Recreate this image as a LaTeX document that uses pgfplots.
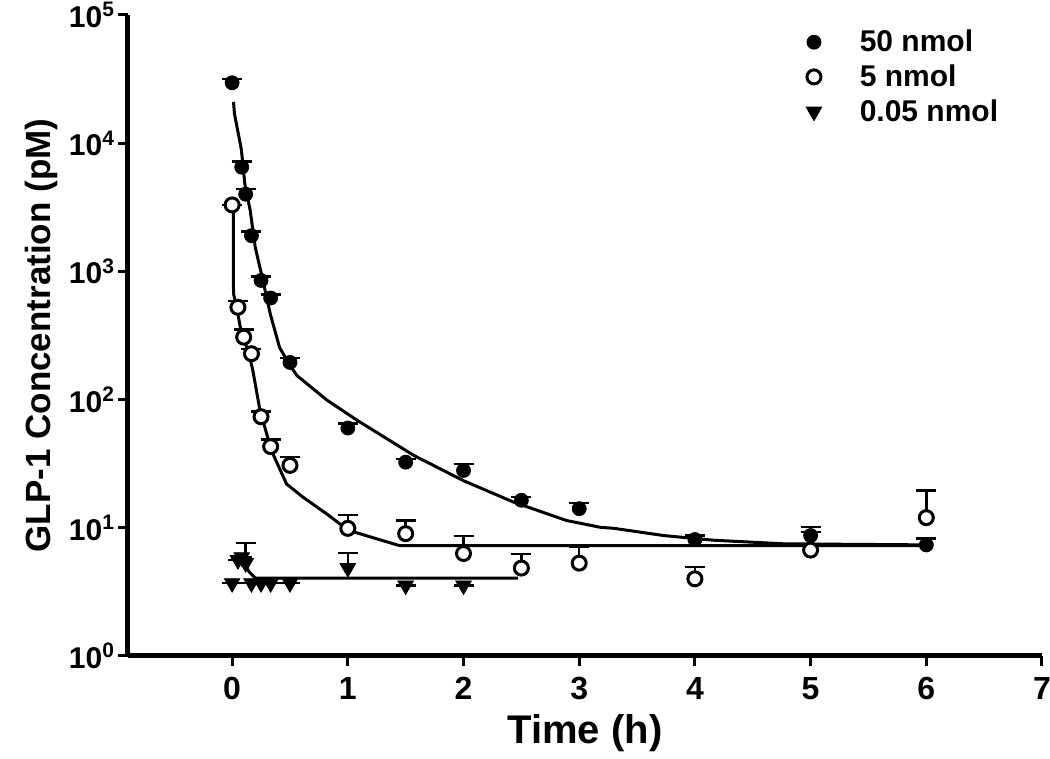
\documentclass[border=0pt]{standalone}
\usepackage{fontspec}
\setmainfont{Liberation Sans}
\usepackage{pgfplots}
\usepackage{pgfplotstable}
\pgfplotsset{compat=1.18}
\pgfplotstableread{
t v e
0 29600 2000
0.083 6500 700
0.117 4000 400
0.167 1900 150
0.25 850 60
0.333 620 40
0.5 195 15
1 60 5
1.5 32.5 2
2 28 3.3
2.5 16.4 1
3 14.1 1.5
4 8.1 0.6
5 8.7 1.4
6 7.35 0.9
}\dataA
\pgfplotstableread{
t v e
0 3300 0
0.05 525 60
0.1 307 45
0.167 228 20
0.25 73.5 7
0.333 43 6
0.5 30.7 5
1 9.9 2.7
1.5 9.0 2.4
2 6.3 2.3
2.5 4.85 1.4
3 5.3 1.8
4 4.0 0.95
5 6.7 2.6
6 12.0 7.5
}\dataB
\pgfplotstableread{
t v e
0 3.7 0
0.05 5.6 0
0.083 5.9 0
0.117 5.3 2.3
0.167 3.7 0
0.25 3.7 0
0.333 3.7 0
0.5 3.7 0
1 4.85 1.5
1.5 3.55 0
2 3.55 0
}\dataC
\begin{document}
\begin{tikzpicture}
\path[use as bounding box] (-64pt,-51.5pt) rectangle (461pt,328pt);
\begin{axis}[
  at={(0,0)}, anchor=south west,
  scale only axis, width=457pt, height=320.5pt,
  xmin=-0.9, xmax=7, ymode=log, ymin=1, ymax=100000,
  axis lines=left, axis line style={line width=2.5pt,-},
  xtick={0,1,2,3,4,5,6,7},
  ytick={1,10,100,1000,10000,100000},
  yticklabels={10\textsuperscript{0},10\textsuperscript{1},10\textsuperscript{2},10\textsuperscript{3},10\textsuperscript{4},10\textsuperscript{5}},
  /pgf/number format/assume math mode=true,
  yminorticks=false, xminorticks=false,
  tick align=outside, major tick length=5pt,
  tick style={line width=1.5pt, black},
  xticklabel style={font=\fontsize{16}{19}\selectfont\bfseries, yshift=-2pt},
  yticklabel style={font=\fontsize{15}{18}\selectfont\bfseries, xshift=2pt},
  xlabel={Time (h)}, ylabel={GLP-1 Concentration (pM)},
  every axis x label/.style={at={(axis description cs:0.5,-0.12)}, anchor=center,
    font=\fontsize{20}{24}\selectfont\bfseries},
  every axis y label/.style={at={(axis description cs:-0.095,0.5)}, rotate=90, anchor=center,
    font=\fontsize{17.5}{21}\selectfont\bfseries},
  clip=false,
  legend style={draw=none, fill=none, at={(axis description cs:0.735,0.99)}, anchor=north west,
    font=\fontsize{15}{18}\selectfont\bfseries, row sep=1pt,
    /tikz/every odd column/.append style={column sep=17pt}},
  legend cell align=left,
]
% fitted curves
\addplot[forget plot, black, line width=1.5pt] coordinates {
(0.012,21000) (0.02,17000) (0.08,8900) (0.11,4800) (0.156,3000) (0.2,1540) (0.26,900)
(0.33,465) (0.41,255) (0.5,185) (0.56,154) (0.82,99) (1.08,69) (1.57,36.7) (2.0,23.3)
(2.43,15.9) (2.89,11.4) (3.18,10.1) (3.3,9.9) (3.73,8.7) (4.16,8.0) (4.77,7.5) (6.06,7.35)};
\addplot[forget plot, black, line width=1.5pt] coordinates {
(0.01,3000) (0.012,670) (0.04,520) (0.07,370) (0.1,290) (0.14,240) (0.18,167) (0.24,83)
(0.34,40) (0.47,22) (0.61,17.4) (0.83,12.6) (1.0,9.6) (1.25,8.2) (1.45,7.25) (6,7.25)};
\addplot[forget plot, black, line width=1.5pt] coordinates {
(0.07,5.8) (0.1,5.3) (0.15,4.5) (0.2,4.05) (2.47,4.05)};
% data
\addplot[black, only marks, mark=*, mark size=3.5pt,
  error bars/.cd, y dir=plus, y explicit,
  error bar style={line width=1.2pt},
  error mark options={rotate=90, mark size=5pt, line width=1.2pt}]
  table[x=t, y=v, y error=e] {\dataA};
\addlegendentry{50 nmol}
\addplot[black, only marks, mark=*, mark size=3.5pt, mark options={fill=white, line width=1.5pt},
  error bars/.cd, y dir=plus, y explicit,
  error bar style={line width=1.2pt},
  error mark options={rotate=90, mark size=5pt, line width=1.2pt}]
  table[x=t, y=v, y error=e] {\dataB};
\addlegendentry{5 nmol}
\addplot[black, only marks, mark=triangle*, mark size=4.5pt, mark options={rotate=180},
  error bars/.cd, y dir=plus, y explicit,
  error bar style={line width=1.2pt},
  error mark options={rotate=90, mark size=5pt, line width=1.2pt}]
  table[x=t, y=v, y error=e] {\dataC};
\addlegendentry{0.05 nmol}
\end{axis}
\end{tikzpicture}
\end{document}
